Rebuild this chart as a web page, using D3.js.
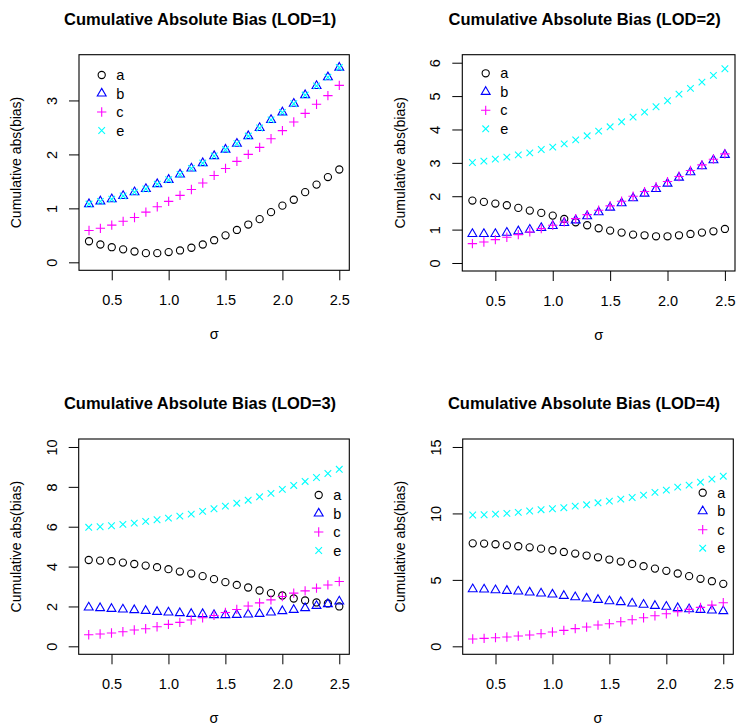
<!DOCTYPE html>
<html>
<head>
<meta charset="utf-8">
<script src="https://cdn.jsdelivr.net/npm/d3@7"></script>
<style>
  body { margin: 0; background: #fff; }
  svg { display: block; font-family: "Liberation Sans", Arial, sans-serif; }
</style>
</head>
<body>
<svg id="chart" width="750" height="726"></svg>
<script>
// sigma grid shared by every panel
const sigma = [0.3, 0.4, 0.5, 0.6, 0.7, 0.8, 0.9, 1.0, 1.1, 1.2, 1.3, 1.4,
               1.5, 1.6, 1.7, 1.8, 1.9, 2.0, 2.1, 2.2, 2.3, 2.4, 2.5];

const titles = ["Cumulative Absolute Bias (LOD=1)", "Cumulative Absolute Bias (LOD=2)",
                "Cumulative Absolute Bias (LOD=3)", "Cumulative Absolute Bias (LOD=4)"];
const seriesNames = ["a", "b", "c", "e"];
const xTicks = [0.5, 1.0, 1.5, 2.0, 2.5];
const yLimits = [[0, 3.7], [0, 6], [0, 10], [0, 15]];
const yTicks = [[0, 1, 2, 3], [0, 1, 2, 3, 4, 5, 6], [0, 2, 4, 6, 8, 10], [0, 5, 10, 15]];

// LOD = 1
const lod1A = [0.39, 0.33, 0.28, 0.24, 0.20, 0.17, 0.17, 0.19, 0.22, 0.27, 0.33, 0.41,
               0.50, 0.60, 0.70, 0.80, 0.93, 1.05, 1.16, 1.30, 1.44, 1.58, 1.72];
const lod1B = [1.08, 1.13, 1.17, 1.23, 1.30, 1.36, 1.45, 1.53, 1.63, 1.74, 1.84, 1.97,
               2.09, 2.20, 2.34, 2.49, 2.64, 2.78, 2.94, 3.10, 3.27, 3.43, 3.61];
const lod1C = [0.59, 0.63, 0.69, 0.76, 0.83, 0.93, 1.03, 1.13, 1.24, 1.35, 1.47, 1.61,
               1.74, 1.87, 2.00, 2.13, 2.29, 2.44, 2.60, 2.76, 2.93, 3.09, 3.28];
const lod1E = [1.08, 1.13, 1.17, 1.23, 1.30, 1.36, 1.45, 1.53, 1.63, 1.74, 1.84, 1.97,
               2.09, 2.20, 2.34, 2.49, 2.64, 2.78, 2.94, 3.10, 3.27, 3.43, 3.61];

// LOD = 2
const lod2A = [1.87, 1.83, 1.78, 1.73, 1.65, 1.57, 1.50, 1.42, 1.32, 1.22, 1.13, 1.04,
               0.97, 0.91, 0.85, 0.83, 0.80, 0.80, 0.83, 0.87, 0.91, 0.95, 1.02];
const lod2B = [0.87, 0.87, 0.87, 0.91, 0.95, 1.00, 1.05, 1.11, 1.20, 1.28, 1.40, 1.52,
               1.66, 1.79, 1.94, 2.08, 2.22, 2.38, 2.56, 2.72, 2.90, 3.08, 3.24];
const lod2C = [0.58, 0.63, 0.70, 0.77, 0.85, 0.93, 1.03, 1.13, 1.23, 1.33, 1.45, 1.58,
               1.71, 1.85, 2.00, 2.14, 2.29, 2.44, 2.59, 2.77, 2.94, 3.11, 3.27];
const lod2E = [3.01, 3.05, 3.11, 3.17, 3.24, 3.30, 3.40, 3.47, 3.57, 3.69, 3.81, 3.95,
               4.08, 4.23, 4.37, 4.52, 4.68, 4.86, 5.06, 5.23, 5.42, 5.62, 5.82];

// LOD = 3
const lod3A = [4.33, 4.30, 4.27, 4.20, 4.13, 4.05, 3.97, 3.87, 3.75, 3.65, 3.52, 3.37,
               3.22, 3.08, 2.95, 2.80, 2.67, 2.55, 2.40, 2.30, 2.20, 2.15, 2.00];
const lod3B = [1.95, 1.92, 1.88, 1.85, 1.82, 1.78, 1.73, 1.70, 1.67, 1.63, 1.62, 1.57,
               1.57, 1.58, 1.60, 1.63, 1.70, 1.77, 1.83, 1.92, 2.03, 2.12, 2.25];
const lod3C = [0.58, 0.62, 0.67, 0.73, 0.82, 0.88, 0.98, 1.10, 1.20, 1.32, 1.43, 1.55,
               1.70, 1.85, 2.02, 2.18, 2.33, 2.50, 2.67, 2.78, 2.92, 3.08, 3.25];
const lod3E = [5.97, 6.00, 6.05, 6.12, 6.18, 6.27, 6.35, 6.43, 6.53, 6.63, 6.77, 6.90,
               7.03, 7.18, 7.33, 7.50, 7.67, 7.87, 8.07, 8.27, 8.47, 8.67, 8.88];

// LOD = 4
const lod4A = [7.75, 7.73, 7.68, 7.60, 7.53, 7.45, 7.35, 7.23, 7.10, 6.98, 6.83, 6.70,
               6.53, 6.38, 6.20, 6.03, 5.85, 5.68, 5.48, 5.28, 5.08, 4.90, 4.70];
const lod4B = [4.30, 4.28, 4.23, 4.18, 4.13, 4.05, 3.98, 3.90, 3.80, 3.70, 3.60, 3.50,
               3.40, 3.33, 3.23, 3.13, 3.05, 2.98, 2.88, 2.80, 2.75, 2.70, 2.65];
const lod4C = [0.55, 0.60, 0.65, 0.70, 0.78, 0.85, 0.95, 1.08, 1.20, 1.33, 1.45, 1.60,
               1.70, 1.85, 2.00, 2.15, 2.30, 2.45, 2.60, 2.78, 2.93, 3.10, 3.28];
const lod4E = [9.88, 9.90, 9.95, 10.00, 10.08, 10.18, 10.28, 10.35, 10.43, 10.55, 10.65, 10.80,
               10.93, 11.08, 11.20, 11.38, 11.58, 11.75, 11.98, 12.13, 12.35, 12.58, 12.80];

const panelSeries = [
  [lod1A, lod1B, lod1C, lod1E],
  [lod2A, lod2B, lod2C, lod2E],
  [lod3A, lod3B, lod3C, lod3E],
  [lod4A, lod4B, lod4C, lod4E]
];

// layout (pixel boxes of each plot region, legend anchors)
const boxes = [
  {l: 79,    r: 349.3, t: 54.7, b: 270.3},
  {l: 462.3, r: 735,   t: 54.7, b: 271},
  {l: 78.7,  r: 349.3, t: 439,  b: 654.3},
  {l: 462.7, r: 733.3, t: 439,  b: 654.3}
];
const legendPos = [{x: 101.7, y: 75}, {x: 485.7, y: 73.3}, {x: 318.7, y: 495}, {x: 702.7, y: 492.7}];
const colors = {a: '#000000', b: '#0000ff', c: '#ff00ff', e: '#00ffff'};

const R0 = 3.3; // base symbol radius, like R's pch sizing
const symbolPath = {
  a: null, // circle, drawn as <circle>
  b: `M0,${-1.555 * R0}L${1.347 * R0},${0.778 * R0}L${-1.347 * R0},${0.778 * R0}Z`,
  c: `M${-1.414 * R0},0H${1.414 * R0}M0,${-1.414 * R0}V${1.414 * R0}`,
  e: `M${-R0},${-R0}L${R0},${R0}M${-R0},${R0}L${R0},${-R0}`
};

const svg = d3.select('#chart');

function drawSymbol(g, key, x, y) {
  if (key === 'a') {
    g.append('circle')
      .attr('cx', x).attr('cy', y).attr('r', R0 + 0.3)
      .attr('fill', 'none').attr('stroke', colors[key]).attr('stroke-width', 1.1);
  } else {
    g.append('path')
      .attr('d', symbolPath[key])
      .attr('transform', `translate(${x},${y})`)
      .attr('fill', 'none').attr('stroke', colors[key]).attr('stroke-width', 1.1);
  }
}

boxes.forEach((box, i) => {
  const g = svg.append('g');

  // R-style 4% axis extension
  const xr = sigma[sigma.length - 1] - sigma[0];
  const x = d3.scaleLinear()
    .domain([sigma[0] - 0.04 * xr, sigma[sigma.length - 1] + 0.04 * xr])
    .range([box.l, box.r]);
  const [y0, y1] = yLimits[i];
  const yr = y1 - y0;
  const y = d3.scaleLinear()
    .domain([y0 - 0.04 * yr, y1 + 0.04 * yr])
    .range([box.b, box.t]);

  // x axis
  g.append('g')
    .attr('transform', `translate(0,${box.b})`)
    .call(d3.axisBottom(x).tickValues(xTicks).tickFormat(d3.format('.1f')).tickSize(10).tickSizeOuter(0))
    .call(a => a.select('.domain').remove())
    .call(a => a.selectAll('line').attr('stroke', '#000'))
    .call(a => a.selectAll('text')
      .attr('y', 35).attr('dy', null)
      .attr('fill', '#000').style('font-size', '14.5px').style('font-family', '"Liberation Sans", Arial, sans-serif'));

  // y axis (labels rotated, as R does)
  g.append('g')
    .attr('transform', `translate(${box.l},0)`)
    .call(d3.axisLeft(y).tickValues(yTicks[i]).tickFormat(d3.format('d')).tickSize(10).tickSizeOuter(0))
    .call(a => a.select('.domain').remove())
    .call(a => a.selectAll('line').attr('stroke', '#000'))
    .call(a => a.selectAll('text')
      .attr('x', null).attr('dy', null)
      .attr('text-anchor', 'middle')
      .attr('transform', 'translate(-22,0) rotate(-90)')
      .attr('fill', '#000').style('font-size', '14.5px').style('font-family', '"Liberation Sans", Arial, sans-serif'));

  // points: a, b, c, e in that order
  seriesNames.forEach((key, k) => {
    const vals = panelSeries[i][k];
    const pg = g.append('g');
    sigma.forEach((s, j) => drawSymbol(pg, key, x(s), y(vals[j])));
  });

  // frame
  g.append('rect')
    .attr('x', box.l).attr('y', box.t)
    .attr('width', box.r - box.l).attr('height', box.b - box.t)
    .attr('fill', 'none').attr('stroke', '#000').attr('stroke-width', 1.1);

  // title
  g.append('text')
    .attr('x', (box.l + box.r) / 2 - 14)
    .attr('y', box.t - 30)
    .attr('text-anchor', 'middle')
    .style('font-size', '16.5px').style('font-weight', 'bold')
    .text(titles[i]);

  // axis titles
  g.append('text')
    .attr('x', (box.l + box.r) / 2)
    .attr('y', box.b + 69)
    .attr('text-anchor', 'middle')
    .style('font-size', '14.5px')
    .text('σ');

  g.append('text')
    .attr('transform', `translate(${box.l - 57.7},${(box.t + box.b) / 2}) rotate(-90)`)
    .attr('text-anchor', 'middle')
    .style('font-size', '14px')
    .text('Cumulative abs(bias)');

  // legend
  const lg = g.append('g');
  seriesNames.forEach((key, k) => {
    const ly = legendPos[i].y + k * 18.5;
    drawSymbol(lg, key, legendPos[i].x, ly);
    lg.append('text')
      .attr('x', legendPos[i].x + 14.5)
      .attr('y', ly)
      .attr('dy', '0.35em')
      .style('font-size', '14.5px')
      .text(key);
  });
});
</script>
</body>
</html>
